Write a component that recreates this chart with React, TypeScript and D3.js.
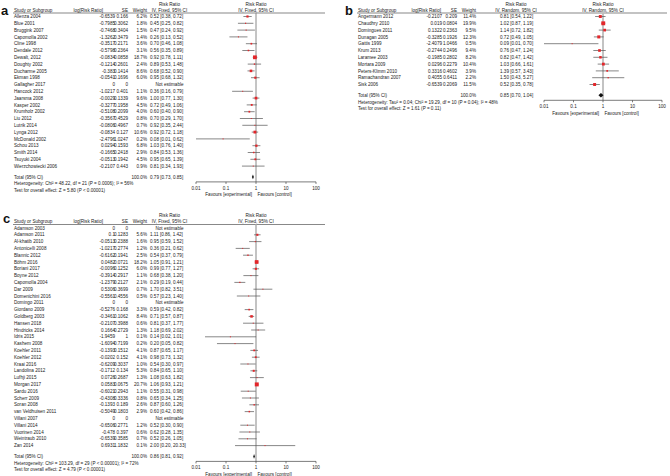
import React from 'react';
import * as d3 from 'd3';

// ---- panel a: fixed effect ----
const studiesA = ['Allenza 2004', 'Blue 2001', 'Bruggink 2007', 'Capomolla 2002', 'Cline 1998', 'Dendale 2012', 'Dewalt, 2012', 'Doughty 2002', 'Ducharme 2005', 'Ekman 1998', 'Gallagher 2017', 'Hancock 2012', 'Jaarsma 2008', 'Kasper 2002', 'Krumholz 2002', 'Liu 2012', 'Lutrik 2014', 'Lynga 2012', 'McDonald 2002', 'Schou 2013', 'Smith 2014', 'Tsuyuki 2004', 'Wierzchowiecki 2006'];
const logRrA = [-0.6539, -0.7985, -0.7468, -1.3262, -0.3517, -0.5798, -0.0834, -0.1214, -0.383, -0.0541, 0, -1.0217, -0.0029, -0.3277, -0.5108, -0.3567, -0.0806, -0.0834, -2.4796, 0.0294, -0.1665, -0.0513, -0.2107];
const seA = [0.166, 0.3062, 0.3404, 0.3479, 0.2171, 0.2364, 0.0858, 0.2601, 0.1414, 0.1696, 0, 0.401, 0.1339, 0.1958, 0.2099, 0.4529, 0.4967, 0.127, 1.0247, 0.1593, 0.2418, 0.1942, 0.443];
const weightA = [6.2, 1.8, 1.5, 1.4, 3.6, 3.1, 18.7, 2.4, 8.6, 6.0, null, 1.1, 9.6, 4.5, 4.0, 0.8, 0.7, 10.6, 0.2, 6.8, 2.9, 4.5, 0.9];
const rrA = [0.52, 0.45, 0.47, 0.26, 0.70, 0.56, 0.92, 0.89, 0.68, 0.95, null, 0.36, 1.00, 0.72, 0.60, 0.70, 0.92, 0.92, 0.08, 1.03, 0.84, 0.95, 0.81];
const loA = [0.38, 0.25, 0.24, 0.13, 0.46, 0.35, 0.78, 0.53, 0.52, 0.68, null, 0.16, 0.77, 0.49, 0.40, 0.29, 0.35, 0.72, 0.01, 0.76, 0.53, 0.65, 0.34];
const hiA = [0.72, 0.82, 0.92, 0.52, 1.08, 0.89, 1.11, 1.48, 0.90, 1.32, null, 0.79, 1.30, 1.06, 0.90, 1.70, 2.44, 1.18, 0.62, 1.40, 1.36, 1.39, 1.93];
const totalA = [0.79, 0.73, 0.85];
const hetA = 'Heterogeneity: Chi² = 48.22, df = 21 (P = 0.0006); I² = 56%';
const testA = 'Test for overall effect: Z = 5.80 (P < 0.00001)';

// ---- panel b: random effects ----
const studiesB = ['Angermann 2012', 'Chaudhry 2010', 'Domingues 2011', 'Dunagan 2005', 'Gattis 1999', 'Krum 2013', 'Laramee 2003', 'Mortara 2009', 'Peters-Klimm 2010', 'Ramachandran 2007', 'Sisk 2006'];
const logRrB = [-0.2107, 0.019, 0.1322, -0.3285, -2.4079, -0.2744, -0.1985, 0.0296, 0.3316, 0.4055, -0.6539];
const seB = [0.209, 0.0804, 0.2363, 0.1926, 1.0466, 0.2496, 0.2802, 0.2279, 0.4602, 0.6411, 0.2069];
const weightB = [11.4, 19.9, 9.5, 12.3, 0.5, 9.4, 8.2, 10.4, 3.9, 2.2, 11.5];
const rrB = [0.81, 1.02, 1.14, 0.72, 0.09, 0.76, 0.82, 1.03, 1.39, 1.50, 0.52];
const loB = [0.54, 0.87, 0.72, 0.49, 0.01, 0.47, 0.47, 0.66, 0.57, 0.43, 0.35];
const hiB = [1.22, 1.19, 1.82, 1.05, 0.70, 1.24, 1.42, 1.61, 3.43, 5.27, 0.78];
const totalB = [0.85, 0.70, 1.04];
const hetB = 'Heterogeneity: Tau² = 0.04; Chi² = 19.29, df = 10 (P = 0.04); I² = 48%';
const testB = 'Test for overall effect: Z = 1.61 (P = 0.11)';

// ---- panel c: fixed effect ----
const studiesC = ['Adamson 2003', 'Adamson 2011', 'Al-khatib 2010', 'Antonicelli 2008', 'Blannic 2012', 'Böhm 2016', 'Boriani 2017', 'Boyne 2012', 'Capomolla 2004', 'Dar 2009', 'Domenichini 2016', 'Domingo 2011', 'Giordano 2009', 'Goldberg 2003', 'Hansen 2018', 'Hindricks 2014', 'Idris 2015', 'Kashem 2008', 'Koehler 2011', 'Koehler 2012', 'Kraai 2016', 'Landolina 2012', 'Lufhji 2015', 'Morgan 2017', 'Sardu 2016', 'Scherr 2009', 'Soran 2008', 'van Veldhuisen 2011', 'Villani 2007', 'Villani 2014', 'Vuorinen 2014', 'Weintraub 2010', 'Zan 2014'];
const logRrC = [0, 0.1, -0.0513, -1.0217, -0.6162, 0.0482, -0.0096, -0.3914, -1.2379, 0.5306, -0.5561, 0, -0.5276, -0.3461, -0.2107, 0.1664, -1.9459, -1.6094, -0.1393, -0.0202, -0.6209, -0.1712, 0.0726, 0.0583, -0.6021, -0.4308, -0.1393, -0.5049, 0, -0.6506, -0.478, -0.6539, 0.6931];
const seC = [0, 0.1283, 0.2388, 0.2774, 0.1941, 0.0721, 0.1252, 0.2917, 0.2127, 0.3699, 0.4556, 0, 0.168, 0.1062, 0.3988, 0.2729, 1, 0.7199, 0.1512, 0.152, 0.3037, 0.134, 0.2687, 0.0675, 0.2943, 0.3336, 0.189, 0.1803, 0, 0.2771, 0.397, 0.3585, 1.1832];
const weightC = [null, 5.6, 1.6, 1.2, 2.5, 18.2, 6.0, 1.1, 2.1, 0.7, 0.5, null, 3.3, 8.4, 0.6, 1.3, 0.1, 0.2, 4.1, 4.1, 1.0, 5.3, 1.3, 20.7, 1.1, 0.8, 2.6, 2.9, null, 1.2, 0.6, 0.7, 0.1];
const rrC = [null, 1.11, 0.95, 0.36, 0.54, 1.05, 0.99, 0.68, 0.29, 1.70, 0.57, null, 0.59, 0.71, 0.81, 1.18, 0.14, 0.20, 0.87, 0.98, 0.54, 0.84, 1.08, 1.06, 0.55, 0.65, 0.87, 0.60, null, 0.52, 0.62, 0.52, 2.00];
const loC = [null, 0.86, 0.59, 0.21, 0.37, 0.91, 0.77, 0.38, 0.19, 0.82, 0.23, null, 0.42, 0.57, 0.37, 0.69, 0.02, 0.05, 0.65, 0.73, 0.30, 0.65, 0.63, 0.93, 0.31, 0.34, 0.60, 0.42, null, 0.30, 0.28, 0.26, 0.20];
const hiC = [null, 1.42, 1.52, 0.62, 0.79, 1.21, 1.27, 1.20, 0.44, 3.51, 1.40, null, 0.82, 0.87, 1.77, 2.02, 1.01, 0.82, 1.17, 1.32, 0.97, 1.10, 1.82, 1.21, 0.98, 1.25, 1.26, 0.86, null, 0.90, 1.35, 1.05, 20.33];
const totalC = [0.86, 0.81, 0.92];
const hetC = 'Heterogeneity: Chi² = 103.29, df = 29 (P < 0.00001); I² = 72%';
const testC = 'Test for overall effect: Z = 4.79 (P < 0.00001)';

const axisTicks = [0.01, 0.1, 1, 10, 100];
const tickLabels = ['0.01', '0.1', '1', '10', '100'];

const FONT = "'Liberation Sans', Arial, Helvetica, sans-serif";
const FS = 4.6;
const TXT = '#222';
const RED = '#e3262a';
const ROW = 6.8;

const fmt = (v) => v.toFixed(2);

// tiny text: draw at double size and scale down, so the browser's minimum font size does not kick in
function T({ x, y, anchor = 'start', children }) {
  return (
    <text
      transform={`translate(${x},${y}) scale(0.5)`}
      fontFamily={FONT}
      fontSize={FS * 2}
      fill={TXT}
      dy="0.35em"
      textAnchor={anchor}
    >
      {children}
    </text>
  );
}

function Panel({ cfg }) {
  const { top, letter, lx, ly, nameX, logRight, logHeadRight, seRight, wRight, rrX, rrHeadX, plot, lineX, method, vline } = cfg;
  const x = d3.scaleLog().domain([0.01, 100]).range(plot);
  const rowY = (i) => top + 16.5 + i * ROW;
  const lastY = rowY(cfg.studies.length - 1);
  const totY = lastY + 10.8;
  const axisY = totY + 5;
  const side = (w) => Math.max(1, 3.9 * Math.sqrt(w / 20));
  const h1 = top + 4;
  const h2 = top + 10;
  return (
    <g>
      <text x={lx} y={ly} fontFamily={FONT} fontSize={13} fontWeight="bold" fill="#111">{letter}</text>
      <T x={rrHeadX} y={h1} anchor="middle">Risk Ratio</T>
      <T x={x(1)} y={h1} anchor="middle">Risk Ratio</T>
      <T x={nameX} y={h2}>Study or Subgroup</T>
      <T x={logHeadRight} y={h2} anchor="end">log[Risk Ratio]</T>
      <T x={seRight} y={h2} anchor="end">SE</T>
      <T x={wRight} y={h2} anchor="end">Weight</T>
      <T x={rrHeadX} y={h2} anchor="middle">{`IV, ${method}, 95% CI`}</T>
      <T x={x(1)} y={h2} anchor="middle">{`IV, ${method}, 95% CI`}</T>
      <line x1={lineX[0]} x2={lineX[1]} y1={top + 13} y2={top + 13} stroke="#555" strokeWidth={0.7} />
      {/* line of no effect */}
      <line x1={x(1)} x2={x(1)} y1={top + 13} y2={axisY} stroke={vline.color} strokeWidth={vline.width} />
      {cfg.studies.map((s, i) => {
        const y = rowY(i);
        const w = cfg.weight[i];
        return (
          <g key={s}>
            <T x={nameX} y={y}>{s}</T>
            <T x={logRight} y={y} anchor="end">{String(cfg.logRr[i])}</T>
            <T x={seRight} y={y} anchor="end">{String(cfg.se[i])}</T>
            {w == null
              ? <T x={rrHeadX} y={y} anchor="middle">Not estimable</T>
              : (
                <>
                  <T x={wRight} y={y} anchor="end">{`${w.toFixed(1)}%`}</T>
                  <T x={rrX} y={y}>{`${fmt(cfg.rr[i])} [${fmt(cfg.lo[i])}, ${fmt(cfg.hi[i])}]`}</T>
                  <line x1={x(cfg.lo[i])} x2={x(cfg.hi[i])} y1={y} y2={y} stroke="#555" strokeWidth={0.7} />
                  <rect x={x(cfg.rr[i]) - side(w) / 2} y={y - side(w) / 2} width={side(w)} height={side(w)} fill={RED} />
                </>
              )}
          </g>
        );
      })}
      <T x={nameX} y={totY}>Total (95% CI)</T>
      <T x={wRight} y={totY} anchor="end">100.0%</T>
      <T x={rrX} y={totY}>{`${fmt(cfg.total[0])} [${fmt(cfg.total[1])}, ${fmt(cfg.total[2])}]`}</T>
      <polygon
        points={[
          [x(cfg.total[1]), totY],
          [x(cfg.total[0]), totY - 2.3],
          [x(cfg.total[2]), totY],
          [x(cfg.total[0]), totY + 2.3],
        ].map((p) => p.join(',')).join(' ')}
        fill="#111"
      />
      <T x={nameX} y={totY + 6.8}>{cfg.het}</T>
      <T x={nameX} y={totY + 13.4}>{cfg.test}</T>
      {/* axis */}
      <line x1={plot[0]} x2={plot[1]} y1={axisY} y2={axisY} stroke="#444" strokeWidth={0.7} />
      {axisTicks.map((v, i) => (
        <g key={v}>
          <line x1={x(v)} x2={x(v)} y1={axisY} y2={axisY + 2} stroke="#444" strokeWidth={0.7} />
          <T x={x(v)} y={axisY + 6.3} anchor="middle">{tickLabels[i]}</T>
        </g>
      ))}
      <T x={x(1) - 4} y={axisY + 12.6} anchor="end">Favours [experimental]</T>
      <T x={x(1) + 1.5} y={axisY + 12.6}>Favours [control]</T>
    </g>
  );
}

const panels = [
  {
    top: 0, letter: 'a', lx: 1, ly: 15, nameX: 14, logRight: 115, logHeadRight: 103, seRight: 128, wRight: 147,
    rrX: 150, rrHeadX: 169.5, plot: [196, 316], lineX: [13, 325], method: 'Fixed', vline: { color: '#8a8a8a', width: 1 },
    studies: studiesA, logRr: logRrA, se: seA, weight: weightA, rr: rrA, lo: loA, hi: hiA, total: totalA, het: hetA, test: testA,
  },
  {
    top: 0, letter: 'b', lx: 345, ly: 15, nameX: 358, logRight: 442, logHeadRight: 441, seRight: 457, wRight: 476,
    rrX: 500, rrHeadX: 516, plot: [544, 662], lineX: [357, 667], method: 'Random', vline: { color: '#bdbdbd', width: 1.8 },
    studies: studiesB, logRr: logRrB, se: seB, weight: weightB, rr: rrB, lo: loB, hi: hiB, total: totalB, het: hetB, test: testB,
  },
  {
    top: 211.5, letter: 'c', lx: 3, ly: 223, nameX: 14, logRight: 115, logHeadRight: 103, seRight: 128, wRight: 147,
    rrX: 150, rrHeadX: 169.5, plot: [196, 316], lineX: [13, 325], method: 'Fixed', vline: { color: '#bdbdbd', width: 1.8 },
    studies: studiesC, logRr: logRrC, se: seC, weight: weightC, rr: rrC, lo: loC, hi: hiC, total: totalC, het: hetC, test: testC,
  },
];

export default function App() {
  return (
    <svg width={670} height={476} style={{ position: 'absolute', left: 0, top: 0, background: '#fff' }}>
      <rect width={670} height={476} fill="#fff" />
      {panels.map((p) => <Panel key={p.letter} cfg={p} />)}
    </svg>
  );
}
